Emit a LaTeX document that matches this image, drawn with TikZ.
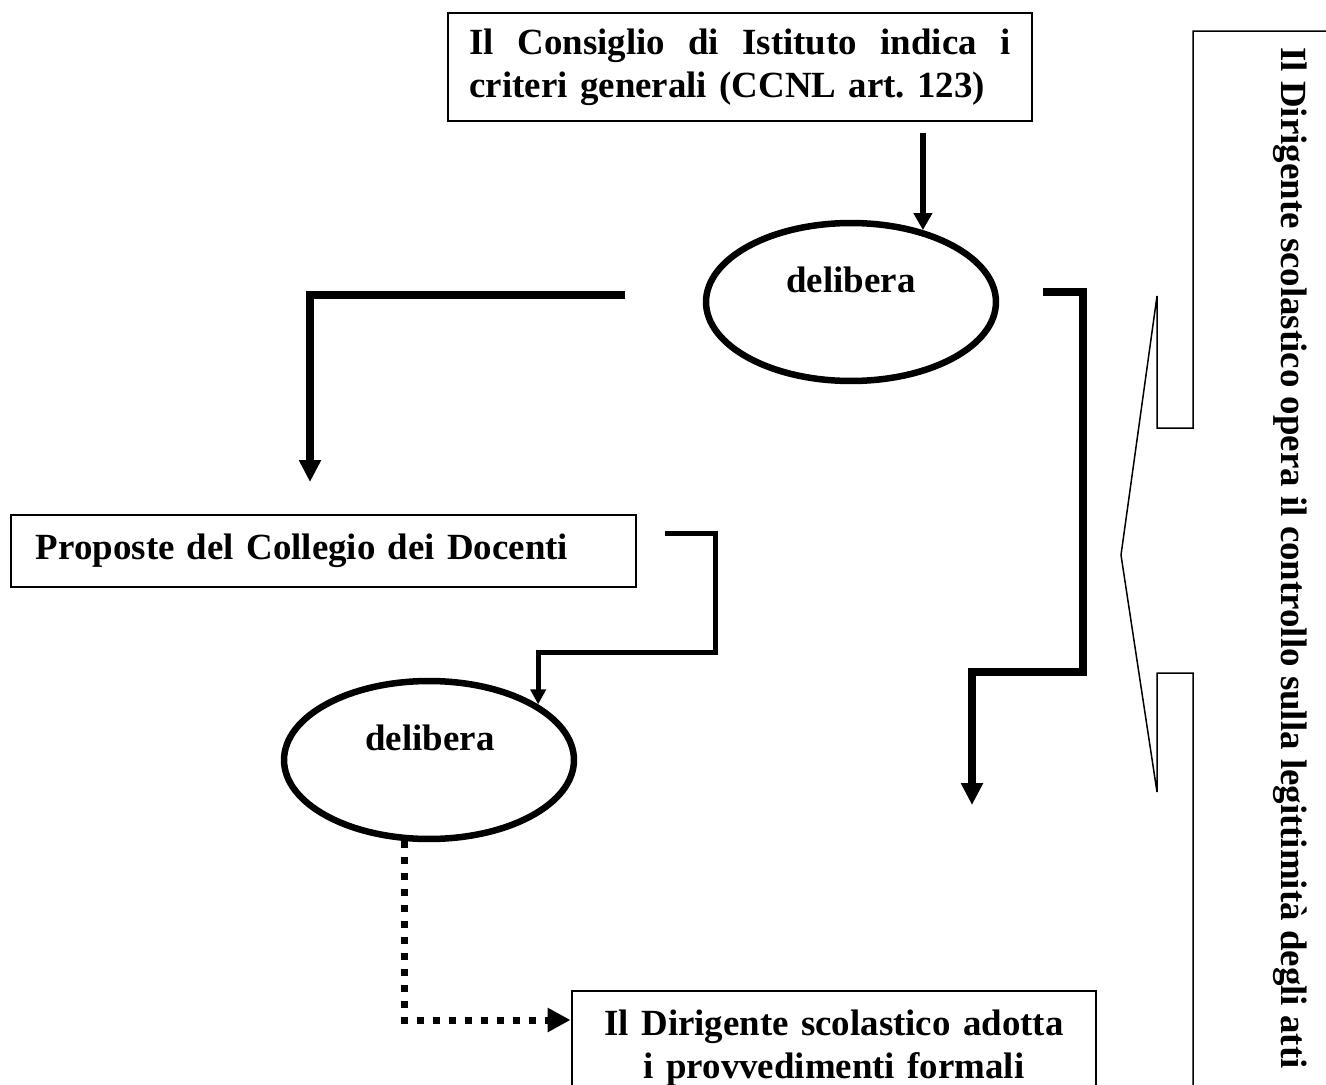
\documentclass[tikz,border=0pt]{standalone}
\usepackage{fontspec}
\setmainfont{Liberation Serif}
\usetikzlibrary{arrows.meta,shapes.geometric}

\tikzset{
  txt/.style={font=\fontsize{21}{24.5}\selectfont\bfseries},
  box/.style={txt, draw, line width=0.04cm, inner ysep=0.38cm},
  delib/.style={draw, ellipse, line width=0.13cm, minimum width=5.8cm, minimum height=3.16cm, inner sep=0},
  flow/.style={line width=0.12cm, -{Triangle[length=0.34cm,width=0.36cm]}},
  bigflow/.style={line width=0.16cm, -{Triangle[length=0.44cm,width=0.42cm]}},
  midflow/.style={line width=0.1cm, -{Triangle[length=0.3cm,width=0.3cm]}},
  dotflow/.style={line width=0.14cm, dash pattern=on 0.14cm off 0.18cm, -{Triangle[length=0.46cm,width=0.46cm]}},
  callout/.style={line width=0.03cm}
}

\begin{document}
\begin{tikzpicture}[x=0.02cm, y=-0.02cm]
  \useasboundingbox (0,0) rectangle (1326,1085);

  % boxes
  \node[box, text width=10.82cm, inner xsep=0.44cm, inner ysep=0.3cm, minimum height=2.18cm, align=left] (cdi) at (740,67)
    {\hbox to 10.82cm{Il\hfill Consiglio\hfill di\hfill Istituto\hfill indica\hfill i}\\criteri generali (CCNL art.~123)};
  \node[box, text width=11.5cm, inner xsep=0.5cm, inner ysep=0, minimum height=1.44cm, anchor=west, align=left] (cdd) at (10,551)
    {Proposte del Collegio dei Docenti};
  \node[box, text width=9.7cm, inner xsep=0.4cm, anchor=north, align=center] (ds) at (834,990)
    {Il Dirigente scolastico adotta\\i provvedimenti formali};

  % delibere
  \node[delib] (e1) at (851,302) {};
  \node[txt] (e1t) at (851,280) {delibera};
  \node[delib] (e2) at (429,760) {};
  \node[txt] (e2t) at (430,738) {delibera};

  % controllo del dirigente
  \node[txt, rotate=-90] (ctl) at (1290,558) {Il Dirigente scolastico opera il controllo sulla legittimità degli atti};
  \draw[callout] (1330,31) -- (1193,31) -- (1193,428) -- (1157,428) -- (1157,296) -- (1121,555)
    -- (1157,792) -- (1157,673) -- (1193,673) -- (1193,1090);

  % frecce
  \draw[flow, shorten <=0.22cm] (cdi.south -| e1.45) -- (e1.45);

  \coordinate (l1) at (625,295);
  \coordinate (l2) at (310,482);
  \draw[bigflow] (l1) -| (l2);

  \coordinate (r1) at (1043,292);
  \coordinate (r2) at (1083,672);
  \coordinate (r3) at (972,805);
  \draw[bigflow] (r1) -| (r2) -| (r3);

  \coordinate (p1) at (665,533);
  \coordinate (p2) at (715,652);
  \draw[midflow] (p1) -| (p2) -| (e2.27);

  \draw[dotflow] (e2.253) |- ([yshift=-0.6cm]ds.north west);
\end{tikzpicture}
\end{document}
